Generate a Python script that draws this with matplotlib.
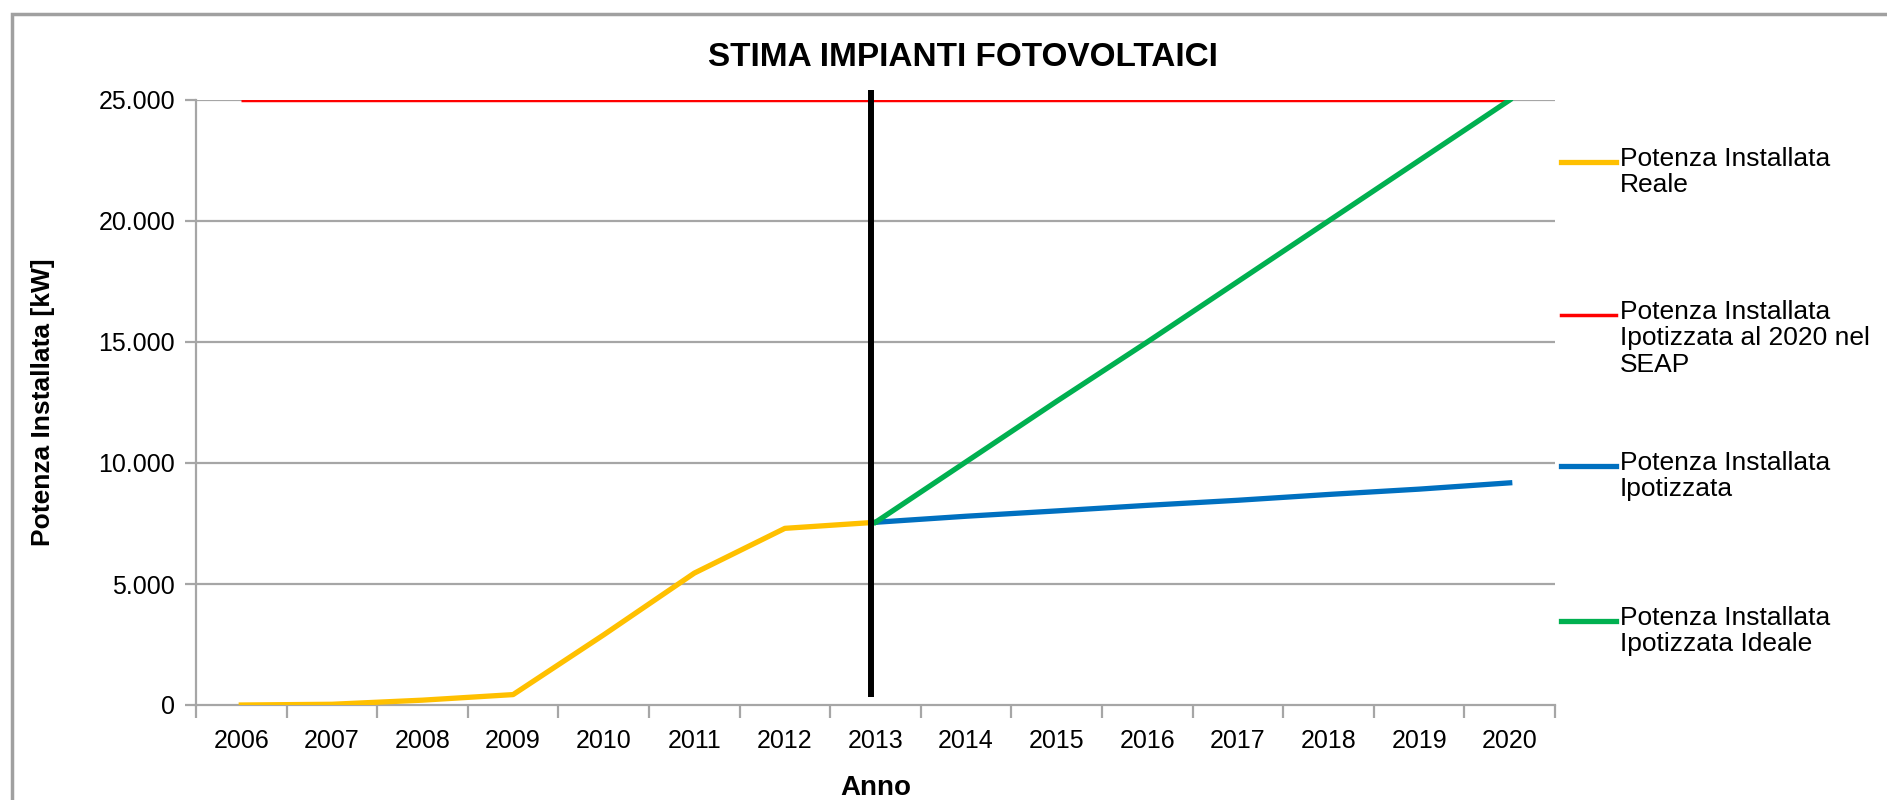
import numpy as np
import matplotlib.pyplot as plt
from matplotlib.lines import Line2D
from matplotlib.patches import Rectangle
from matplotlib.ticker import FuncFormatter, FixedLocator

plt.rcParams['font.family'] = ['Liberation Sans', 'DejaVu Sans']

# dati
anni = ['2006', '2007', '2008', '2009', '2010', '2011', '2012', '2013',
        '2014', '2015', '2016', '2017', '2018', '2019', '2020']
reale = [0, 30, 200, 430, 2900, 5450, 7300, 7550]              # 2006-2013
seap = [25000] * 15                                             # 2006-2020
ipotizzata = [7550, 7800, 8020, 8250, 8460, 8700, 8920, 9180]   # 2013-2020
ideale = [7550, 10050, 12550, 15000, 17500, 20000, 22500, 25000]  # 2013-2020
anno_corrente = '2013'

serie = [
    ('Potenza Installata\nReale', '#FFC000', 3.8),
    ('Potenza Installata\nIpotizzata al 2020 nel\nSEAP', '#FF0000', 2.5),
    ('Potenza Installata\nIpotizzata', '#0070C0', 3.8),
    ('Potenza Installata\nIpotizzata Ideale', '#00B050', 3.8),
]

W, H = 1887, 800
fig = plt.figure(figsize=(W / 100, H / 100), dpi=100)
ax = fig.add_axes([196 / W, 1 - 705 / H, (1555 - 196) / W, (705 - 100) / H])

x = np.arange(len(anni))
i0 = anni.index(anno_corrente)

grid_c = '#A6A6A6'
for v in range(5000, 25001, 5000):
    ax.axhline(v, color=grid_c, lw=1.6, zorder=1)

ax.plot(x, seap, color=serie[1][1], lw=serie[1][2], zorder=3, solid_capstyle='butt')
ax.plot(x[:len(reale)], reale, color=serie[0][1], lw=serie[0][2], zorder=4)
ax.plot(x[i0:], ipotizzata, color=serie[2][1], lw=serie[2][2], zorder=4)
ax.plot(x[i0:], ideale, color=serie[3][1], lw=serie[3][2], zorder=4)

# linea verticale anno corrente
ax.plot([i0 - 0.05, i0 - 0.05], [330, 25400], color='black', lw=4.3,
        zorder=5, clip_on=False, solid_capstyle='butt')

ax.set_xlim(-0.5, len(anni) - 0.5)
ax.set_ylim(0, 25000)
ax.set_xticks(x)
ax.set_xticklabels(anni)
ax.xaxis.set_minor_locator(FixedLocator(np.arange(-0.5, len(anni), 1.0)))
ax.tick_params(axis='x', which='major', length=0, pad=17, labelsize=18)
ax.tick_params(axis='x', which='minor', length=9, width=1.6, color=grid_c)
ax.set_yticks(range(0, 25001, 5000))
ax.yaxis.set_major_formatter(FuncFormatter(lambda v, p: f"{int(v):,}".replace(',', '.')))
ax.tick_params(axis='y', length=8, width=1.6, color=grid_c, pad=7, labelsize=18)

for s in ['top', 'right']:
    ax.spines[s].set_visible(False)
for s in ['left', 'bottom']:
    ax.spines[s].set_color(grid_c)
    ax.spines[s].set_linewidth(1.6)

ax.set_xlabel('Anno', fontsize=20, fontweight='bold', labelpad=16)
ax.set_ylabel('Potenza Installata [kW]', fontsize=19, fontweight='bold', labelpad=31)
fig.text(963 / W, 1 - 58 / H, 'STIMA IMPIANTI FOTOVOLTAICI', ha='center', va='center',
         fontsize=24, fontweight='bold')

# legenda a destra
leg_y = [162, 315, 466, 621]
for (lab, col, lw), yy in zip(serie, leg_y):
    fig.add_artist(Line2D([1561 / W, 1616 / W], [1 - yy / H, 1 - yy / H],
                          color=col, lw=lw, transform=fig.transFigure))
    fig.text(1620 / W, 1 - (yy - 15) / H, lab, ha='left', va='top',
             fontsize=19, linespacing=1.12)

# cornice del grafico
fig.add_artist(Rectangle((12 / W, -0.1), 1.2, 1 - 14 / H + 0.1, transform=fig.transFigure,
                         fill=False, edgecolor='#A0A0A0', lw=2.5))

fig.savefig('out.png', dpi=100)
